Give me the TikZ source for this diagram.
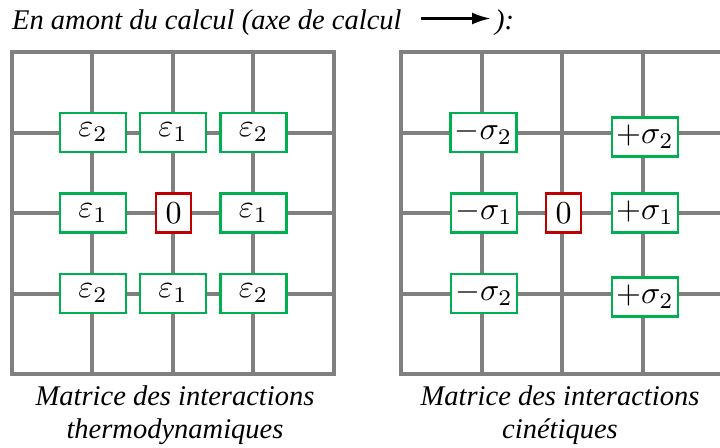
\documentclass[tikz,border=0pt]{standalone}
\usepackage[no-math]{fontspec}
\newfontfamily\capfont{Liberation Serif}
\usetikzlibrary{arrows.meta}
\definecolor{gridgray}{RGB}{128,128,128}
\definecolor{boxgreen}{RGB}{0,176,80}
\definecolor{boxred}{RGB}{192,0,0}
\newcommand{\cellmath}[1]{\scalebox{3.2}{$#1$}}
\begin{document}
\begin{tikzpicture}[x=1pt,y=-1pt,
  gridline/.style={draw=gridgray,line width=4pt},
  cell/.style={draw=boxgreen,fill=white,line width=2.5pt,minimum width=66pt,minimum height=39pt,inner sep=0pt},
  zero/.style={cell,draw=boxred,minimum width=35pt},
  caption/.style={font=\capfont\itshape\fontsize{28.5}{33}\selectfont,anchor=base,inner sep=0pt},
  axisarrow/.style={draw=black,line width=2.8pt,-{Latex[length=19pt,width=12pt]}}]
\useasboundingbox (0,0) rectangle (720,447);

% header
\node[caption,anchor=base west] (hdr) at (12,29) {En amont du calcul (axe de calcul};
\node[caption,anchor=base west] (hdrend) at (495,29) {):};
\coordinate (arrS) at (421,18.5);
\draw[axisarrow,shorten >=4pt] (arrS) -- (hdrend.west |- arrS);

% left grid
\foreach \x in {92,172.5,253} \draw[gridline] (\x,52) -- (\x,374);
\foreach \y in {132.5,213,293.5} \draw[gridline] (11.5,\y) -- (333.5,\y);
\draw[gridline] (11.5,52) rectangle (333.5,374);

% right grid
\foreach \x in {481.5,562,642.5} \draw[gridline] (\x,52) -- (\x,374);
\foreach \y in {132.5,213,293.5} \draw[gridline] (401,\y) -- (723,\y);
\draw[gridline] (401,52) rectangle (723,374);

% left boxes
\node[cell] (t11) at (93,132.5) {\cellmath{\varepsilon_2}};
\node[cell] (t12) at (173,132.5) {\cellmath{\varepsilon_1}};
\node[cell] (t13) at (253.5,132.5) {\cellmath{\varepsilon_2}};
\node[cell] (t21) at (93,213) {\cellmath{\varepsilon_1}};
\node[zero] (t22) at (173.5,213) {\cellmath{0}};
\node[cell] (t23) at (253.5,213) {\cellmath{\varepsilon_1}};
\node[cell] (t31) at (93,293.5) {\cellmath{\varepsilon_2}};
\node[cell] (t32) at (173,293.5) {\cellmath{\varepsilon_1}};
\node[cell] (t33) at (253.5,293.5) {\cellmath{\varepsilon_2}};

% right boxes
\node[cell] (k11) at (483.5,132.5) {\cellmath{-\sigma_2}};
\node[cell] (k13) at (645,137) {\cellmath{+\sigma_2}};
\node[cell] (k21) at (484,213) {\cellmath{-\sigma_1}};
\node[zero] (k22) at (563.5,213) {\cellmath{0}};
\node[cell] (k23) at (645,213) {\cellmath{+\sigma_1}};
\node[cell] (k31) at (484,293.5) {\cellmath{-\sigma_2}};
\node[cell] (k33) at (645,297) {\cellmath{+\sigma_2}};

% captions
\node[caption] (capLa) at (175,405) {Matrice des interactions};
\node[caption] (capLb) at (175,438) {thermodynamiques};
\node[caption] (capRa) at (560,405) {Matrice des interactions};
\node[caption] (capRb) at (560,438) {cinétiques};
\end{tikzpicture}
\end{document}
